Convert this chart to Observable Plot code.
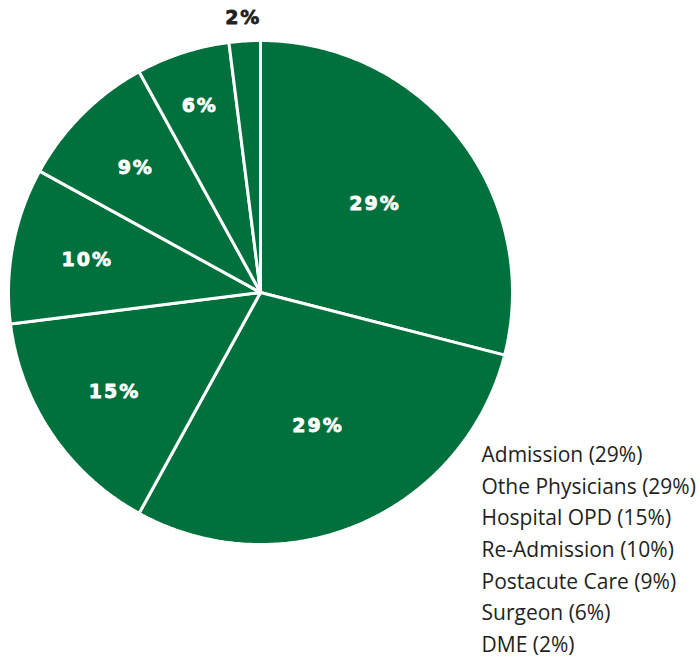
<!DOCTYPE html>
<html>
<head>
<meta charset="utf-8">
<script src="https://cdn.jsdelivr.net/npm/d3@7"></script>
<script src="https://cdn.jsdelivr.net/npm/@observablehq/plot@0.6"></script>
<style>
  html, body { margin: 0; padding: 0; background: #fff; }
  #chart svg { display: block; }
  .pct text { letter-spacing: 2px; }
</style>
</head>
<body>
<div id="chart"></div>
<script>
const categories = ["Admission", "Othe Physicians", "Hospital OPD", "Re-Admission", "Postacute Care", "Surgeon", "DME"];
const shares = [29, 29, 15, 10, 9, 6, 2];

const W = 700, H = 657;
const R = 252, CX = 260, CY = 292; // pixel geometry of pie

const total = d3.sum(shares);
let acc = 0;
const slices = categories.map((name, i) => {
  const a0 = acc / total * 2 * Math.PI;
  acc += shares[i];
  const a1 = acc / total * 2 * Math.PI;
  return { name, value: shares[i], a0, a1 };
});

// polygon points for each slice (unit radius, angle clockwise from north)
const pts = [];
for (const s of slices) {
  pts.push({ name: s.name, x: 0, y: 0 });
  const n = Math.max(2, Math.ceil((s.a1 - s.a0) / 0.01));
  for (let k = 0; k <= n; k++) {
    const a = s.a0 + (s.a1 - s.a0) * k / n;
    pts.push({ name: s.name, x: Math.sin(a), y: Math.cos(a) });
  }
}

// label distance from centre: small slices pushed outward, tiny ones outside
const labelR = (p) => p >= 25 ? 0.575 : p >= 8 ? 0.70 : p >= 5 ? 0.78 : 1.09;
const labels = slices.map(s => {
  const m = (s.a0 + s.a1) / 2, r = labelR(s.value);
  return { text: s.value + "%", x: r * Math.sin(m), y: r * Math.cos(m), outside: r > 1 };
});

const legend = slices.map((s, i) => ({ text: `${s.name} (${s.value}%)`, i }));

const xDom = [-CX / R, (W - CX) / R];
const yDom = [-(H - CY) / R, CY / R];

const plot = Plot.plot({
  width: W, height: H,
  margin: 0,
  x: { domain: xDom, axis: null },
  y: { domain: yDom, axis: null },
  marks: [
    Plot.line(pts, { x: "x", y: "y", z: "name", fill: "#00703c", stroke: "#fff", strokeWidth: 3, curve: "linear-closed", strokeLinejoin: "miter" }),
    Plot.text(labels, { x: "x", y: "y", text: "text", fill: d => d.outside ? "#231f20" : "#fff",
      stroke: d => d.outside ? "#231f20" : "#fff", strokeWidth: 0.8,
      fontSize: 19, fontWeight: 900, fontFamily: "DejaVu Sans", textAnchor: "middle", lineAnchor: "middle", className: "pct" }),
    Plot.text(legend, { x: () => (481 - CX) / R, y: d => (CY - 455 - d.i * 31.6) / R, text: "text",
      fill: "#231f20", fontSize: 21, fontFamily: "Open Sans", textAnchor: "start", lineAnchor: "middle" })
  ]
});
document.getElementById("chart").appendChild(plot);
</script>
</body>
</html>
